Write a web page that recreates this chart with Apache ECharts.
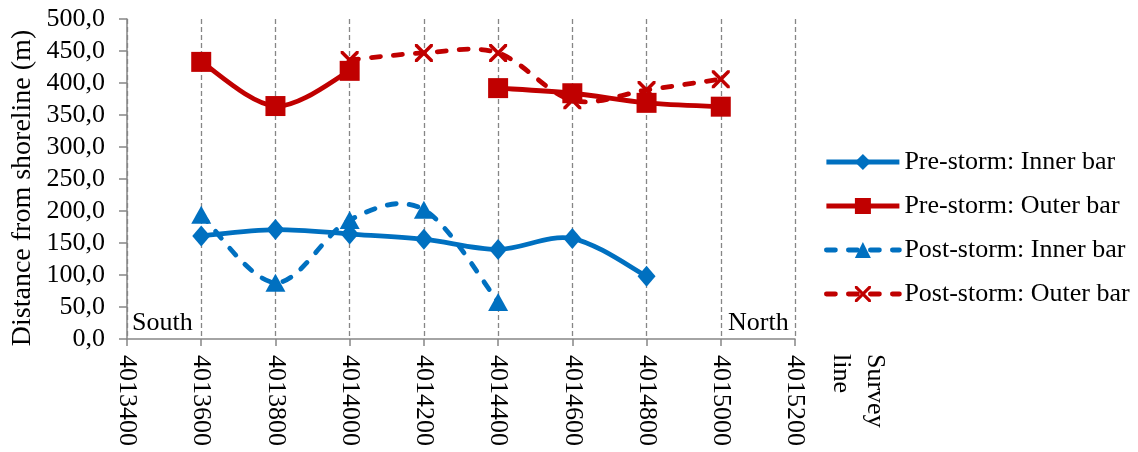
<!DOCTYPE html>
<html><head><meta charset="utf-8">
<script src="https://cdn.jsdelivr.net/npm/echarts@6/dist/echarts.min.js"></script>
<style>html,body{margin:0;padding:0;background:#fff}#c{width:1138px;height:452px}</style>
</head><body><div id="c"></div>
<script>
const xTicks = [4013400, 4013600, 4013800, 4014000, 4014200, 4014400, 4014600, 4014800, 4015000, 4015200];
const surveyLines = [4013600, 4013800, 4014000, 4014200, 4014400, 4014600, 4014800, 4015000];
const preInner  = [161, 171, 164, 156, 140, 157, 98, null];
const preOuter  = [433, 364, 419, null, 392, 384, 369, 363];
const postInner = [194, 88, 186, 202, 58, null, null, null];
const postOuter = [null, null, 436, 447, 447, 373, 389, 406];
const seriesNames = ['Pre-storm: Inner bar', 'Pre-storm: Outer bar', 'Post-storm: Inner bar', 'Post-storm: Outer bar'];
const yTitle = 'Distance from shoreline (m)';
const xTitle = 'Survey\nline';
const sideLabels = ['South', 'North'];

const FONT = '"Liberation Serif", "DejaVu Serif", serif';
const FS = 26;
const BLUE = '#0070C0', RED = '#C00000', GRAY = '#868686';
const LW = 4.8;
const DASH = [9, 13];
const XPATH = 'path://M0,0L1.4,0L5,3.6L8.6,0L10,0L10,1.4L6.4,5L10,8.6L10,10L8.6,10L5,6.4L1.4,10L0,10L0,8.6L3.6,5L0,1.4Z';

function pairs(vals) {
  return surveyLines.map((x, i) => [x, vals[i] == null ? '-' : vals[i]]);
}
// markers + legend entry (line itself hidden, drawn by the curve series below)
function markers(name, vals, color, symbol, size, dashed) {
  return {
    name, type: 'line', data: pairs(vals), connectNulls: false, z: 4,
    symbol, symbolSize: size, showAllSymbol: true,
    lineStyle: { color, width: LW, type: dashed ? DASH : 'solid', cap: dashed ? 'round' : 'butt', opacity: 0 },
    itemStyle: { color, borderWidth: 0 },
    emphasis: { disabled: true }, silent: true
  };
}
// Excel-style smoothed line (cardinal spline, 1/6 tension) through the data, via the axis scales
function curve(name, vals, color, dashed) {
  return {
    name: name + ' (curve)', type: 'custom', coordinateSystem: 'cartesian2d', z: 3, silent: true,
    data: [[surveyLines[0], 0]],
    renderItem: function (params, api) {
      const segs = []; let cur = [];
      surveyLines.forEach((x, i) => {
        if (vals[i] == null) { if (cur.length) segs.push(cur); cur = []; }
        else cur.push(api.coord([x, vals[i]]));
      });
      if (cur.length) segs.push(cur);
      let d = '';
      segs.forEach(p => {
        if (p.length < 2) return;
        d += 'M' + p[0][0] + ',' + p[0][1];
        for (let i = 0; i < p.length - 1; i++) {
          const p0 = p[Math.max(i - 1, 0)], p1 = p[i], p2 = p[i + 1], p3 = p[Math.min(i + 2, p.length - 1)];
          const c1 = [p1[0] + (p2[0] - p0[0]) / 6, p1[1] + (p2[1] - p0[1]) / 6];
          const c2 = [p2[0] - (p3[0] - p1[0]) / 6, p2[1] - (p3[1] - p1[1]) / 6];
          d += 'C' + c1[0] + ',' + c1[1] + ' ' + c2[0] + ',' + c2[1] + ' ' + p2[0] + ',' + p2[1];
        }
      });
      return {
        type: 'path', shape: { pathData: d },
        style: { fill: null, stroke: color, lineWidth: LW, lineDash: dashed ? DASH : null,
                 lineCap: dashed ? 'round' : 'butt', lineJoin: 'round' }
      };
    }
  };
}

const chart = echarts.init(document.getElementById('c'), null, { renderer: 'canvas' });
chart.setOption({
  animation: false,
  textStyle: { fontFamily: FONT },
  grid: { left: 127, top: 19, right: 343, bottom: 113, containLabel: false, outerBoundsMode: 'none' },
  xAxis: {
    type: 'value', min: xTicks[0], max: xTicks[xTicks.length - 1], interval: 200,
    axisLine: { show: true, onZero: false, lineStyle: { color: GRAY, width: 1.5 } },
    axisTick: { show: true, length: 7, lineStyle: { color: GRAY, width: 1.5 } },
    axisLabel: { rotate: -90, fontSize: FS, color: '#000', fontFamily: FONT, margin: 16,
      formatter: v => String(v) },
    splitLine: { show: true, lineStyle: { color: GRAY, type: [5, 3], width: 1.3 } }
  },
  yAxis: {
    type: 'value', min: 0, max: 500, interval: 50,
    axisLine: { show: true, lineStyle: { color: GRAY, width: 1.5 } },
    axisTick: { show: true, length: 8, lineStyle: { color: GRAY, width: 1.5 } },
    axisLabel: { fontSize: FS, color: '#000', fontFamily: FONT, margin: 22,
      formatter: v => v.toFixed(1).replace('.', ',') },
    splitLine: { show: false }
  },
  legend: {
    orient: 'vertical', left: 824, top: 149, padding: 0, itemWidth: 73, itemHeight: 20, itemGap: 18,
    data: seriesNames,
    lineStyle: { width: LW, opacity: 1 },
    textStyle: { fontSize: FS, color: '#000', fontFamily: FONT }
  },
  graphic: [
    { type: 'text', x: 132, y: 323, style: { text: sideLabels[0], font: FS + 'px ' + FONT, fill: '#000', verticalAlign: 'middle' } },
    { type: 'text', x: 728, y: 323, style: { text: sideLabels[1], font: FS + 'px ' + FONT, fill: '#000', verticalAlign: 'middle' } },
    { type: 'text', x: 892, y: 354, rotation: -Math.PI / 2,
      style: { text: xTitle, font: FS + 'px ' + FONT, fill: '#000', lineHeight: 34, align: 'left', verticalAlign: 'top' } },
    { type: 'text', x: 23, y: 188, rotation: Math.PI / 2,
      style: { text: yTitle, font: '28px ' + FONT, fill: '#000', align: 'center', verticalAlign: 'middle' } }
  ],
  series: [
    curve(seriesNames[0], preInner, BLUE, false),
    curve(seriesNames[1], preOuter, RED, false),
    curve(seriesNames[2], postInner, BLUE, true),
    curve(seriesNames[3], postOuter, RED, true),
    markers(seriesNames[0], preInner, BLUE, 'diamond', [18, 21], false),
    markers(seriesNames[1], preOuter, RED, 'rect', 20, false),
    markers(seriesNames[2], postInner, BLUE, 'triangle', [20, 18], true),
    markers(seriesNames[3], postOuter, RED, XPATH, 18, true)
  ]
});
</script></body></html>
